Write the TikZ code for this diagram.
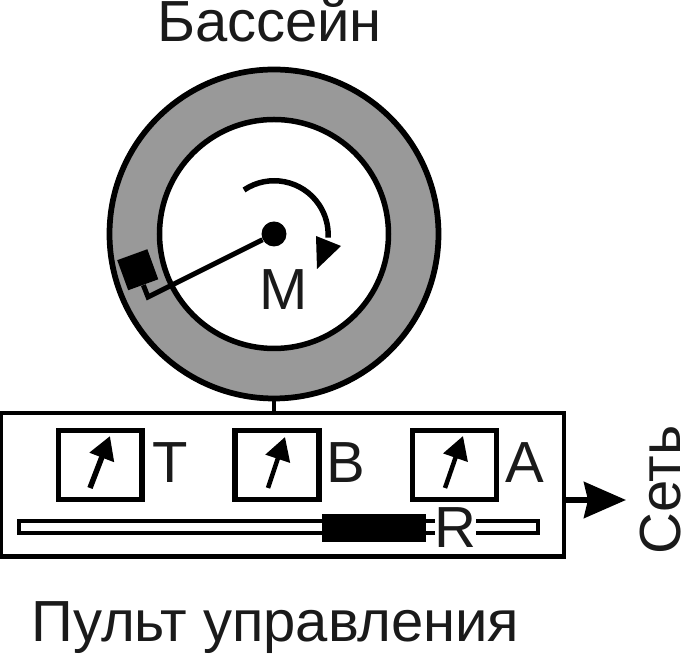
\documentclass[tikz,border=0pt]{standalone}
\usepackage{fontspec}
\setmainfont{Liberation Sans}
\usetikzlibrary{arrows.meta,calc}
\definecolor{darktext}{HTML}{1A1A1A}
\definecolor{basingray}{HTML}{999999}
\tikzset{
  label text/.style={color=darktext,font=\fontsize{33}{35}\selectfont,inner sep=0pt},
  meterbox/.style={draw,line width=0.1cm,minimum width=1.68cm,minimum height=1.39cm,inner sep=0pt},
  needle/.style={line width=0.11cm,-{Triangle[length=0.46cm,width=0.5cm]}}
}
\begin{document}
\begin{tikzpicture}
  \useasboundingbox (0,0) rectangle (13.64,13.08);

  % Basin ring
  \node[circle,draw,fill=basingray,line width=0.115cm,minimum size=6.58cm,inner sep=0pt] (basin) at (5.48,8.4) {};
  \node[circle,draw,fill=white,line width=0.11cm,minimum size=4.58cm,inner sep=0pt] (pool) at (5.48,8.4) {};
  \node[label text,anchor=base] (basintitle) at (5.39,12.24) {Бассейн};

  % Rotating arm with probe
  \node[circle,fill=black,minimum size=0.5cm,inner sep=0pt] (hub) at (5.48,8.4) {};
  \node[rectangle,fill=black,minimum size=0.64cm,inner sep=0pt,rotate=20] (probe) at (2.755,7.685) {};
  \coordinate (armknee) at (2.96,7.14);
  \draw[line width=0.1cm] (hub) -- (armknee) -- (probe.south);

  % Direction of rotation
  \draw[line width=0.11cm] (4.88,9.28) arc (124:-3:1.08);
  \fill (6.32,8.36) -- (6.82,8.16) -- (6.34,7.70) -- cycle;
  \node[label text,anchor=base] (motor) at (5.68,6.88) {M};

  % Control panel
  \node[rectangle,draw,line width=0.09cm,minimum width=11.26cm,minimum height=2.87cm,inner sep=0pt] (panel) at (5.65,3.385) {};
  \draw[line width=0.07cm] (basin.south) -- (basin.south |- panel.north);

  % Meters
  \node[meterbox] (meterT) at (2.0,3.78) {};
  \node[meterbox] (meterB) at (5.54,3.78) {};
  \node[meterbox] (meterA) at (9.08,3.78) {};
  \draw[needle] ($(meterT.center)+(-0.2,-0.46)$) -- ($(meterT.center)+(0.2,0.58)$);
  \draw[needle,line width=0.09cm] ($(meterB.center)+(-0.18,-0.46)$) -- ($(meterB.center)+(0.16,0.56)$);
  \draw[needle,line width=0.09cm] ($(meterA.center)+(-0.18,-0.46)$) -- ($(meterA.center)+(0.18,0.58)$);
  \node[label text,anchor=base] (labelT) at (3.40,3.42) {T};
  \node[label text,anchor=base] (labelB) at (6.92,3.42) {B};
  \node[label text,anchor=base] (labelA) at (10.50,3.42) {A};

  % Regulator
  \node[rectangle,draw,fill=white,line width=0.09cm,minimum width=10.38cm,minimum height=0.24cm,inner sep=0pt] (rail) at (5.57,2.54) {};
  \node[rectangle,fill=black,minimum width=2.08cm,minimum height=0.56cm,inner sep=0pt] (slider) at (7.48,2.52) {};
  \node[label text,anchor=base,fill=white] (labelR) at (9.11,2.12) {R};

  % Output to the network
  \coordinate (netend) at (12.52,3.08);
  \draw[line width=0.11cm,-{Stealth[length=0.84cm,width=0.72cm,inset=0.08cm]}] (panel.east |- netend) -- (netend);
  \node[label text,anchor=base,rotate=90] (netlabel) at (13.6,3.28) {Сеть};

  \node[label text,anchor=base] (paneltitle) at (5.51,0.24) {Пульт управления};
\end{tikzpicture}
\end{document}
